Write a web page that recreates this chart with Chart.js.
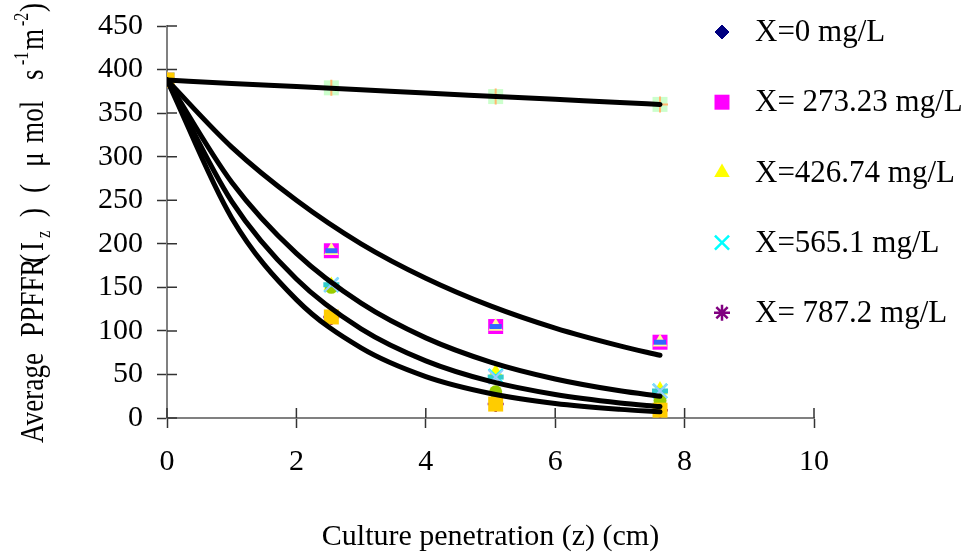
<!DOCTYPE html>
<html><head><meta charset="utf-8">
<script src="https://cdn.jsdelivr.net/npm/chart.js@4.4.0/dist/chart.umd.min.js"></script>
<style>html,body{margin:0;padding:0;background:#fff;}#wrap{width:966px;height:559px;position:relative;}</style>
</head><body><div id="wrap"><canvas id="c"></canvas></div>
<script>
// ---- data ----
const zMeasured = [0, 2.54, 5.08, 7.62];
const zFit = [0, 1, 2, 3, 4, 5, 6, 7, 7.62];
const xTickValues = [0, 2, 4, 6, 8, 10];
const yTickValues = [0, 50, 100, 150, 200, 250, 300, 350, 400, 450];
const seriesLabels = ['X=0 mg/L', 'X= 273.23 mg/L', 'X=426.74 mg/L', 'X=565.1 mg/L', 'X= 787.2 mg/L'];
// legend series (measured points)
const ppfd0   = [388, 379, 369, 360];
const ppfd273 = [388, 192, 105, 87];
const ppfd426 = [388, 152, 52, 32];
const ppfd565 = [388, 153, 48, 31];
const ppfd787 = [388, 116, 16, 9];
// second marker set drawn over them (not in legend)
const rep0   = [388, 379, 369, 360];
const rep273 = [388, 192, 105, 87];
const rep426 = [388, 153, 47, 31];
const rep565 = [388, 150, 30, 20];
const rep787 = [388, 116, 16, 9];
// fitted trend curves
const fit0   = [388, 384, 380.5, 376.8, 373, 369.4, 365.8, 362.3, 360];
const fit273 = [388, 311, 250, 200, 160.5, 128.7, 103.2, 82.8, 72];
const fit426 = [388, 270.7, 188.9, 131.8, 92, 64.2, 44.8, 31.2, 25];
const fit565 = [388, 248.8, 159.5, 102.3, 65.6, 42, 27, 17.3, 13.1];
const fit787 = [388, 229.7, 135.9, 80.5, 47.6, 28.2, 16.7, 9.9, 7.1];

// y-axis title pieces: [text, kind (0 normal, 1 subscript, 2 superscript), offset along the axis]
const yTitleParts = [
  ['Average', 0, 0], ['PPFFR', 0, 106], ['(', 0, 180], ['I', 0, 192], ['z', 1, 205], [')', 0, 226],
  ['(', 0, 250], ['\u03bc', 0, 276], ['mol', 0, 300], ['s', 0, 363], ['-1', 2, 378],
  ['m', 0, 393], ['-2', 2, 417], [')', 0, 431]
];
const xTitle = 'Culture penetration (z) (cm)';

const pts = (xs, ys) => xs.map((x, i) => ({x, y: ys[i]}));
const SERIF = '"Liberation Serif", "Times New Roman", serif';

function markerDs(label, ys, style, color, radius, order, bw, filled) {
  return {
    label, data: pts(zMeasured, ys), showLine: false,
    pointStyle: style, pointRadius: radius, pointHoverRadius: radius,
    pointBackgroundColor: filled ? color : 'transparent',
    pointBorderColor: color, pointBorderWidth: bw, order
  };
}
function fitDs(ys) {
  return {
    label: '', data: pts(zFit, ys), showLine: true, pointRadius: 0,
    borderColor: '#000', borderWidth: 5, cubicInterpolationMode: 'monotone',
    borderCapStyle: 'round', borderJoinStyle: 'round', fill: false, order: 0
  };
}

const datasets = [
  markerDs(seriesLabels[0], ppfd0, 'rectRot', '#000080', 7, 20, 1, true),
  markerDs(seriesLabels[1], ppfd273, 'rect', '#ff00ff', 10.6, 20, 0, true),
  markerDs(seriesLabels[2], ppfd426, 'triangle', '#ffff00', 9, 19, 0, true),
  markerDs(seriesLabels[3], ppfd565, 'crossRot', '#00ffff', 10, 18, 2.5, false),
  markerDs(seriesLabels[4], ppfd787, 'star', '#800080', 8, 20, 2.5, false),
  // overlay markers
  markerDs('', rep0, 'rect', '#ccffcc', 10.6, 10, 0, true),
  markerDs('', rep0, 'cross', '#ffb870', 8, 9, 2, false),
  markerDs('', rep273, 'triangle', '#ffff99', 8.5, 10, 0, true),
  markerDs('', rep273, 'line', '#3366ff', 6, 9, 5, false),
  markerDs('', rep426, 'line', '#33cccc', 8, 10, 5, false),
  markerDs('', rep426, 'crossRot', '#99ccff', 10, 9, 2, false),
  markerDs('', rep565, 'circle', '#99cc00', 6.5, 10, 0, true),
  markerDs('', rep787, 'rect', '#ffcc00', 10.6, 5, 0, true),
  fitDs(fit0), fitDs(fit273), fitDs(fit426), fitDs(fit565), fitDs(fit787)
];

const innerTicks = {
  id: 'innerTicks',
  beforeDatasetsDraw(chart) {
    const {ctx, scales: {x, y}, chartArea: a} = chart;
    ctx.save(); ctx.strokeStyle = '#333'; ctx.lineWidth = 1.5; ctx.beginPath();
    y.ticks.forEach(t => { const p = y.getPixelForValue(t.value); ctx.moveTo(a.left, p); ctx.lineTo(a.left + 10, p); });
    x.ticks.forEach(t => { const p = x.getPixelForValue(t.value); ctx.moveTo(p, a.bottom); ctx.lineTo(p, a.bottom - 10); });
    ctx.stroke(); ctx.restore();
  }
};

const customLegend = {
  id: 'customLegend',
  afterDraw(chart) {
    const ctx = chart.ctx;
    ctx.save();
    for (let i = 0; i < 5; i++) {
      const ds = chart.data.datasets[i];
      const mx = 722, my = 32 + i * 70.2;
      ctx.fillStyle = ds.pointBackgroundColor; ctx.strokeStyle = ds.pointBorderColor;
      ctx.lineWidth = ds.pointBorderWidth;
      Chart.helpers.drawPoint(ctx, {pointStyle: ds.pointStyle, radius: ds.pointRadius, borderWidth: ds.pointBorderWidth, rotation: 0}, mx, my);
      ctx.fillStyle = '#000'; ctx.font = '31px ' + SERIF; ctx.textBaseline = 'middle'; ctx.textAlign = 'left';
      ctx.fillText(ds.label, 755, my + 1);
    }
    ctx.restore();
  }
};

const yTitle = {
  id: 'yTitle',
  afterDraw(chart) {
    const ctx = chart.ctx;
    const main = '34px ' + SERIF, small = '20px ' + SERIF;
    ctx.save();
    ctx.translate(43, 443); ctx.rotate(-Math.PI / 2);
    ctx.fillStyle = '#000'; ctx.textBaseline = 'alphabetic'; ctx.textAlign = 'left';
    yTitleParts.forEach(([t, k, pos]) => {
      ctx.save();
      ctx.translate(pos, k === 1 ? 7 : (k === 2 ? -15 : 0));
      ctx.scale(0.8, 1);
      ctx.font = k ? small : main;
      ctx.fillText(t, 0, 0);
      ctx.restore();
    });
    ctx.restore();
  }
};

new Chart(document.getElementById('c'), {
  type: 'scatter',
  data: {datasets},
  options: {
    responsive: true, maintainAspectRatio: false, animation: false,
    layout: {padding: {top: 26, right: 152, left: 0, bottom: 0}},
    plugins: {legend: {display: false}, tooltip: {enabled: false}},
    scales: {
      x: {
        type: 'linear', min: 0, max: 10,
        afterBuildTicks: s => { s.ticks = xTickValues.map(v => ({value: v})); },
        afterFit: s => { s.height = 141; s.paddingLeft = 0; s.paddingRight = 0; },
        ticks: {color: '#000', font: {family: SERIF, size: 30}, padding: 16, maxRotation: 0},
        grid: {drawOnChartArea: false, tickLength: 10, tickColor: '#333', tickWidth: 1.5},
        border: {color: '#808080', width: 2},
        title: {display: true, text: xTitle, color: '#000', font: {family: SERIF, size: 30}, padding: {top: 0, bottom: 4}}
      },
      y: {
        type: 'linear', min: 0, max: 450,
        afterBuildTicks: s => { s.ticks = yTickValues.map(v => ({value: v})); },
        afterFit: s => { s.width = 167; s.paddingTop = 0; s.paddingBottom = 0; },
        ticks: {color: '#000', font: {family: SERIF, size: 30}, padding: 14},
        grid: {drawOnChartArea: false, tickLength: 10, tickColor: '#333', tickWidth: 1.5},
        border: {color: '#808080', width: 2}
      }
    }
  },
  plugins: [innerTicks, customLegend, yTitle]
});
</script></body></html>
